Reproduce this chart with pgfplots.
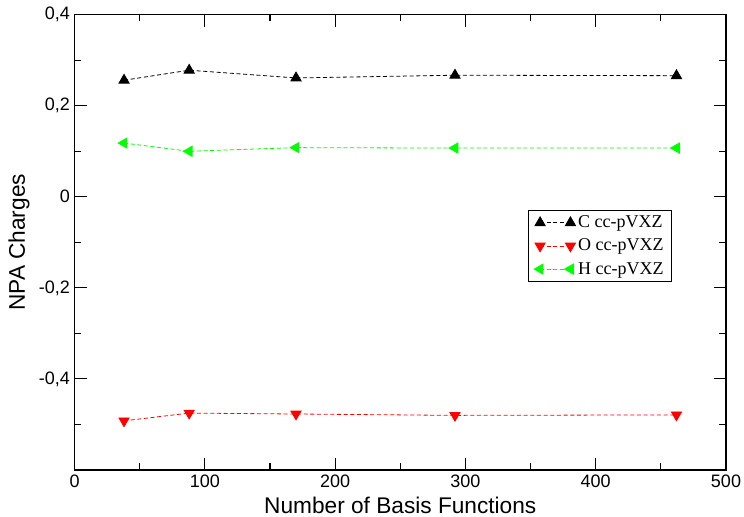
\documentclass[border=0pt]{standalone}
\usepackage{fontspec}
\setmainfont{Liberation Sans}
\newfontfamily\seriffont{Liberation Serif}
\usepackage{pgfplots}
\pgfplotsset{compat=1.18}
\definecolor{grgreen}{RGB}{0,255,0}
\definecolor{grred}{RGB}{255,0,0}
\begin{document}
\begin{tikzpicture}
\begin{axis}[
  scale only axis,
  width=488.6pt, height=341.5pt,
  xmin=0, xmax=500, ymin=-0.6, ymax=0.4,
  xtick={0,100,...,500},
  ytick={-0.4,-0.2,0,0.2,0.4},
  minor xtick={50,150,...,450},
  minor ytick={-0.5,-0.3,-0.1,0.1,0.3},
  tick align=inside,
  major tick length=9pt,
  minor tick length=5pt,
  every tick/.style={black, line width=0.8pt},
  axis line style={line width=1pt},
  /pgf/number format/assume math mode=true,
  /pgf/number format/use comma,
  yticklabel style={/pgf/number format/fixed,/pgf/number format/precision=1},
  tick label style={font=\fontsize{13.5}{16}\selectfont},
  label style={font=\fontsize{17}{20}\selectfont},
  xlabel={Number of Basis Functions},
  ylabel={NPA Charges},
  xlabel style={yshift=0pt},
  ylabel style={yshift=0pt},
  legend style={at={(axis cs:458.6,-0.029)}, anchor=north east,
    font=\seriffont\fontsize{13.5}{16}\selectfont, draw=black, line width=0.6pt,
    inner xsep=4pt, inner ysep=2pt, row sep=3pt},
  legend cell align=left,
  legend image code/.code={\draw[#1, line width=0.6pt] plot coordinates {(0cm,0cm) (0.8cm,0cm)};},
]
\addplot[black, dash pattern=on 3pt off 2pt, line width=0.6pt, mark=triangle*, mark size=4.4pt, mark options={solid}]
 coordinates {(38,0.256) (88,0.278) (170,0.261) (292,0.267) (462,0.266)};
\addlegendentry{C cc-pVXZ}
\addplot[grred, dash pattern=on 3pt off 2pt, line width=0.6pt, mark=triangle*, mark size=4.4pt, mark options={solid, rotate=180}]
 coordinates {(38,-0.492) (88,-0.475) (170,-0.477) (292,-0.480) (462,-0.479)};
\addlegendentry{O cc-pVXZ}
\addplot[grgreen, dash pattern=on 3pt off 2pt, line width=0.6pt, mark=triangle*, mark size=4.4pt, mark options={solid, rotate=90}]
 coordinates {(38,0.118) (88,0.100) (170,0.108) (292,0.107) (462,0.107)};
\addlegendentry{H cc-pVXZ}
\end{axis}
\pgfresetboundingbox
\path ([xshift=-55.9pt,yshift=-34.5pt]current axis.south west) rectangle ([xshift=13.5pt,yshift=11pt]current axis.north east);
\end{tikzpicture}
\end{document}
